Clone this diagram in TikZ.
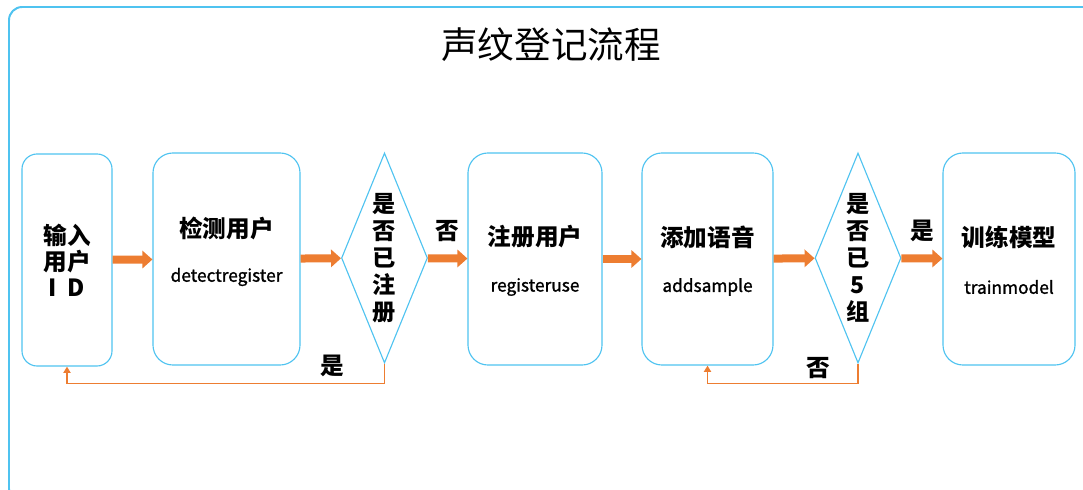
\documentclass[tikz,border=0pt]{standalone}
\usepackage{fontspec}
\setmainfont{Noto Sans CJK SC}
\newfontfamily\enfont[FakeBold=1.4]{Noto Sans CJK SC}
\usetikzlibrary{shapes.geometric, arrows.meta}
\definecolor{boxblue}{HTML}{4FC3F0}
\definecolor{flowor}{HTML}{ED7D31}
\tikzset{
  stepbox/.style={draw=boxblue, line width=0.8pt, rounded corners=0.5cm,
    minimum height=5.3cm, align=center},
  decision/.style={diamond, draw=boxblue, line width=0.8pt, inner sep=0pt, aspect=0.4,
    minimum width=2.15cm, minimum height=5.25cm, align=center,
    font=\bfseries\fontsize{16.5}{19.2}\selectfont},
  flow/.style={draw=flowor, line width=0.2cm, -{Triangle[width=0.43cm, length=0.25cm]}},
  back/.style={draw=flowor, line width=1.2pt, -{Triangle[width=0.18cm, length=0.16cm]}},
  cn/.style={font=\bfseries\fontsize{16.8}{18.6}\selectfont},
  en/.style={font=\enfont\fontsize{12.3}{14}\selectfont},
}

\begin{document}
\begin{tikzpicture}[x=0.025cm, y=-0.025cm]
		\useasboundingbox (0,0) rectangle (1083,490);
		% frame
		\begin{scope}
			\clip (0,0) rectangle (1083,490);
			\draw[boxblue, line width=1.4pt, rounded corners=0.33cm] (9,7) rectangle (1110,502);
		\end{scope}
		\node[font=\fontsize{26}{30}\selectfont] (title) at (551,45) {声纹登记流程};

		% steps
		\node[stepbox, cn, minimum width=2.25cm, rounded corners=0.38cm] (input) at (67,260) {输入\\用户\\I\hspace{0.45em}D};
		\node[stepbox, minimum width=3.675cm] (detect) at (226.5,259) {};
		\node[decision] (isreg) at (384.5,258) {是\\否\\已\\注\\册};
		\node[stepbox, minimum width=3.35cm] (register) at (535,259) {};
		\node[stepbox, minimum width=3.275cm] (addsample) at (707.5,259) {};
		\node[decision] (isfive) at (858,258) {是\\否\\已\\5\\组};
		\node[stepbox, minimum width=3.3cm] (train) at (1009,259) {};

		% step texts
		\node[cn] at (226.5,228) {检测用户};
		\node[en] at (226.5,277) {detectregister};
		\node[cn] at (535,237) {注册用户};
		\node[en] at (535,287) {registeruse};
		\node[cn] at (707.5,237) {添加语音};
		\node[en] at (707.5,287) {addsample};
		\node[cn] at (1009,237) {训练模型};
		\node[en] at (1009,287) {trainmodel};

		% transitions
		\draw[flow] (input) -- (detect);
		\draw[flow] (detect) -- (isreg);
		\draw[flow] (isreg) -- node[cn, above=6pt]{否} (register);
		\draw[flow] (register) -- (addsample);
		\draw[flow] (addsample) -- (isfive);
		\draw[flow] (isfive) -- node[cn, above=6pt]{是} (train);
		\draw[back] (isreg.south) -- ++(0,20) -| (input.south);
		\draw[back] (isfive.south) -- ++(0,20) -| (addsample.south);
		\node[cn] at (332,366) {是};
		\node[cn] at (818,368) {否};
	\end{tikzpicture}
\end{document}
